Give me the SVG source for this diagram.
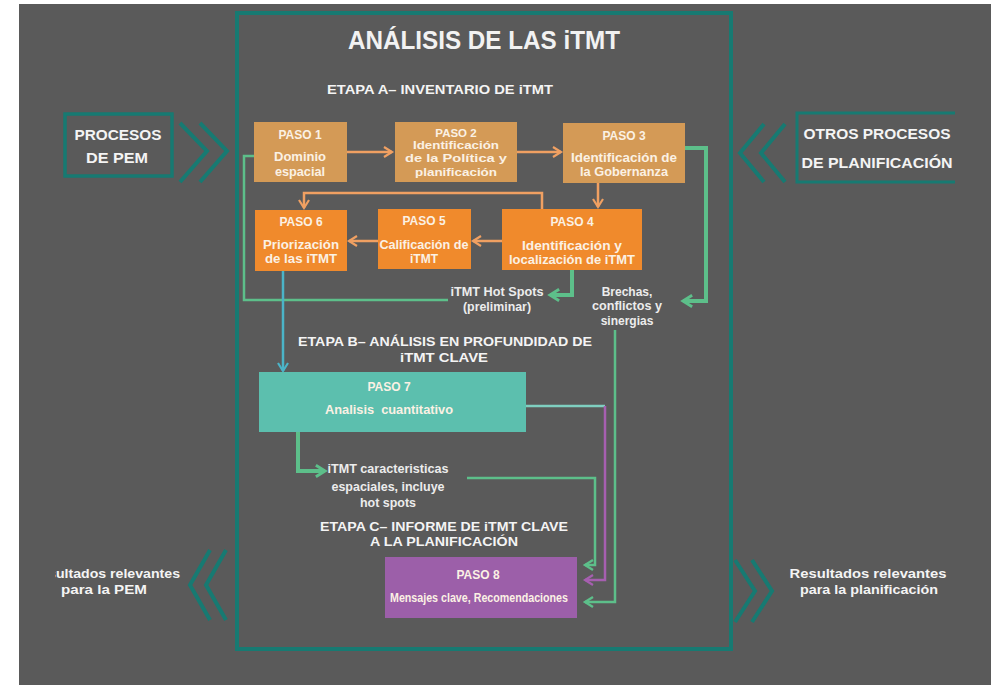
<svg xmlns="http://www.w3.org/2000/svg" width="991" height="685" viewBox="0 0 991 685">
<style>
.t{font-family:"Liberation Sans","Open Sans",sans-serif;font-weight:bold;fill:#f2f2f2;text-anchor:middle}
.bx{font-size:12px;fill:#fbf1e4}
.bs{font-size:11.5px;fill:#fbf1e4}
.lb{font-size:12px;fill:#ececec}
.hd{font-size:13px;fill:#f4f4f4}
.sd{font-size:15px;fill:#f4f4f4}
.teal{fill:none;stroke:#177a72;stroke-width:4}
.or{fill:none;stroke:#f0a062;stroke-width:2.5}
.gr{fill:none;stroke:#5dbf8a;stroke-width:2.5}
.grk{fill:none;stroke:#5dbf8a;stroke-width:4}
.cy{fill:none;stroke:#4bb4c8;stroke-width:2.5}
.pu{fill:none;stroke:#a65fb0;stroke-width:2.5}
.lt{fill:none;stroke:#7fcfc0;stroke-width:2.5}
</style>
<defs>
<marker id="ao" viewBox="-2 -2 14 14" refX="9" refY="5" markerWidth="14" markerHeight="14" markerUnits="userSpaceOnUse" orient="auto"><path d="M1,0 L9,5 L1,10" fill="none" stroke="#f0a062" stroke-width="2.2"/></marker>
<marker id="ag" viewBox="-2 -2 14 14" refX="9" refY="5" markerWidth="14" markerHeight="14" markerUnits="userSpaceOnUse" orient="auto"><path d="M1,0 L9,5 L1,10" fill="none" stroke="#5dbf8a" stroke-width="2.4"/></marker>
<marker id="agk" viewBox="-2 -2 14 14" refX="9" refY="5" markerWidth="16" markerHeight="16" markerUnits="userSpaceOnUse" orient="auto"><path d="M1,0 L9,5 L1,10" fill="none" stroke="#5dbf8a" stroke-width="2.6"/></marker>
<marker id="ac" viewBox="-2 -2 14 14" refX="9" refY="5" markerWidth="14" markerHeight="14" markerUnits="userSpaceOnUse" orient="auto"><path d="M1,0 L9,5 L1,10" fill="none" stroke="#4bb4c8" stroke-width="2.2"/></marker>
<marker id="ap" viewBox="-2 -2 14 14" refX="9" refY="5" markerWidth="14" markerHeight="14" markerUnits="userSpaceOnUse" orient="auto"><path d="M1,0 L9,5 L1,10" fill="none" stroke="#a65fb0" stroke-width="2.2"/></marker>
<clipPath id="clipL"><rect x="55" y="0" width="400" height="685"/></clipPath>
</defs>
<rect x="0" y="0" width="991" height="685" fill="#ffffff"/>
<rect x="19" y="4" width="972" height="681" fill="#5a5a5a"/>

<g id="frame">
<rect class="teal" x="237" y="13" width="494" height="636"/>
<text class="t" x="484" y="49" font-size="25" textLength="272" lengthAdjust="spacingAndGlyphs">ANÁLISIS DE LAS iTMT</text>
<text class="t hd" x="440" y="94" textLength="226" lengthAdjust="spacingAndGlyphs">ETAPA A– INVENTARIO DE iTMT</text>
<text class="t hd" x="445" y="346" textLength="294" lengthAdjust="spacingAndGlyphs">ETAPA B– ANÁLISIS EN PROFUNDIDAD DE</text>
<text class="t hd" x="444" y="362" textLength="88" lengthAdjust="spacingAndGlyphs">iTMT CLAVE</text>
<text class="t hd" x="444" y="531" textLength="248" lengthAdjust="spacingAndGlyphs">ETAPA C– INFORME DE iTMT CLAVE</text>
<text class="t hd" x="444" y="546" textLength="148" lengthAdjust="spacingAndGlyphs">A LA PLANIFICACIÓN</text>
</g>

<g id="procesos-pem">
<rect x="65" y="114" width="107" height="62" fill="none" stroke="#177a72" stroke-width="3.5"/>
<text class="t sd" x="118" y="140" textLength="87" lengthAdjust="spacingAndGlyphs">PROCESOS</text>
<text class="t sd" x="117" y="163" textLength="62" lengthAdjust="spacingAndGlyphs">DE PEM</text>
<path class="teal" stroke-width="3.5" d="M180,123 L207,151 L180,182 M200,123 L227,151 L200,182"/>
</g>

<g id="otros-procesos">
<path d="M955,113 H797 V182 H955" fill="none" stroke="#177a72" stroke-width="3"/>
<text class="t sd" x="877" y="139" textLength="147" lengthAdjust="spacingAndGlyphs">OTROS PROCESOS</text>
<text class="t sd" x="877" y="168" textLength="151" lengthAdjust="spacingAndGlyphs">DE PLANIFICACIÓN</text>
<path class="teal" stroke-width="3.5" d="M764,124 L740,153 L764,182 M785,124 L761,153 L785,182"/>
</g>

<g id="resultados-pem">
<text class="t hd" x="105" y="578" clip-path="url(#clipL)" textLength="150" lengthAdjust="spacingAndGlyphs">Resultados relevantes</text>
<text class="t hd" x="104" y="594" textLength="86" lengthAdjust="spacingAndGlyphs">para la PEM</text>
<path class="teal" stroke-width="3.5" d="M210,550 L190,585 L210,620 M226,550 L206,585 L226,620"/>
</g>

<g id="resultados-planificacion">
<text class="t hd" x="868" y="578" textLength="157" lengthAdjust="spacingAndGlyphs">Resultados relevantes</text>
<text class="t hd" x="869" y="594" textLength="138" lengthAdjust="spacingAndGlyphs">para la planificación</text>
<path class="teal" stroke-width="3.5" d="M735,560 L755,591 L735,622 M752,560 L772,591 L752,622"/>
</g>

<g id="connectors">
<path class="or" d="M347,152 H392" marker-end="url(#ao)"/>
<path class="or" d="M517,152 H561" marker-end="url(#ao)"/>
<path class="or" d="M598,183 V207" marker-end="url(#ao)"/>
<path class="or" d="M542,209 V193 H304 V208" marker-end="url(#ao)"/>
<path class="or" d="M502,241 H473" marker-end="url(#ao)"/>
<path class="or" d="M378,241 H349" marker-end="url(#ao)"/>
<path class="gr" d="M448,300 H244 V156 H254"/>
<path class="grk" d="M572,270 V295 H550" marker-end="url(#agk)"/>
<path class="grk" stroke-width="3.5" d="M685,148 H706 V301 H683" marker-end="url(#agk)"/>
<path class="gr" d="M615,330 V602 H585" marker-end="url(#ag)"/>
<path class="cy" d="M283,271 V371" marker-end="url(#ac)"/>
<path class="grk" d="M298,432 V471 H325" marker-end="url(#agk)"/>
<path class="gr" d="M467,478 H595 V565 H585" marker-end="url(#ag)"/>
<path class="lt" d="M526,406 H605"/>
<path class="pu" d="M605,406 V580 H585" marker-end="url(#ap)"/>
</g>

<g id="paso1">
<rect x="254" y="122" width="93" height="60" fill="#d49a56"/>
<text class="t bx" x="300" y="139">PASO 1</text>
<text class="t bx" x="300" y="161" textLength="52" lengthAdjust="spacingAndGlyphs">Dominio</text>
<text class="t bx" x="300" y="176" textLength="50" lengthAdjust="spacingAndGlyphs">espacial</text>
</g>
<g id="paso2">
<rect x="395" y="122" width="122" height="60" fill="#d49a56"/>
<text class="t bs" x="456" y="137">PASO 2</text>
<text class="t bs" x="456" y="149" textLength="86" lengthAdjust="spacingAndGlyphs">Identificación</text>
<text class="t bs" x="456" y="162" textLength="102" lengthAdjust="spacingAndGlyphs">de la Política y</text>
<text class="t bs" x="456" y="176" textLength="82" lengthAdjust="spacingAndGlyphs">planificación</text>
</g>
<g id="paso3">
<rect x="563" y="123" width="122" height="60" fill="#d49a56"/>
<text class="t bx" x="624" y="140">PASO 3</text>
<text class="t bx" x="624" y="162" textLength="106" lengthAdjust="spacingAndGlyphs">Identificación de</text>
<text class="t bx" x="624" y="176" textLength="88" lengthAdjust="spacingAndGlyphs">la Gobernanza</text>
</g>
<g id="paso4">
<rect x="502" y="209" width="140" height="61" fill="#f08a2c"/>
<text class="t bx" x="572" y="226">PASO 4</text>
<text class="t bx" x="572" y="250" textLength="100" lengthAdjust="spacingAndGlyphs">Identificación y</text>
<text class="t bx" x="572" y="264" textLength="126" lengthAdjust="spacingAndGlyphs">localización de iTMT</text>
</g>
<g id="paso5">
<rect x="378" y="209" width="93" height="60" fill="#f08a2c"/>
<text class="t bx" x="424" y="225">PASO 5</text>
<text class="t bx" x="424" y="249" textLength="89" lengthAdjust="spacingAndGlyphs">Calificación de</text>
<text class="t bx" x="424" y="263">iTMT</text>
</g>
<g id="paso6">
<rect x="255" y="210" width="92" height="61" fill="#f08a2c"/>
<text class="t bx" x="301" y="226">PASO 6</text>
<text class="t bx" x="301" y="249" textLength="76" lengthAdjust="spacingAndGlyphs">Priorización</text>
<text class="t bx" x="301" y="263" textLength="72" lengthAdjust="spacingAndGlyphs">de las iTMT</text>
</g>

<g id="hotspots-label">
<text class="t lb" x="497" y="296" textLength="93" lengthAdjust="spacingAndGlyphs">iTMT Hot Spots</text>
<text class="t lb" x="497" y="311" textLength="68" lengthAdjust="spacingAndGlyphs">(preliminar)</text>
</g>
<g id="brechas-label">
<text class="t lb" x="627" y="296">Brechas,</text>
<text class="t lb" x="627" y="310" textLength="70" lengthAdjust="spacingAndGlyphs">conflictos y</text>
<text class="t lb" x="627" y="325">sinergias</text>
</g>

<g id="paso7">
<rect x="259" y="372" width="267" height="60" fill="#5cbfae"/>
<text class="t bx" x="389" y="391" fill="#eef8f5">PASO 7</text>
<text class="t bx" x="389" y="414" xml:space="preserve" textLength="128" lengthAdjust="spacingAndGlyphs">Analisis  cuantitativo</text>
</g>

<g id="caracteristicas-label">
<text class="t lb" x="388" y="473" textLength="121" lengthAdjust="spacingAndGlyphs">iTMT caracteristicas</text>
<text class="t lb" x="388" y="491" textLength="113" lengthAdjust="spacingAndGlyphs">espaciales, incluye</text>
<text class="t lb" x="388" y="507" textLength="56" lengthAdjust="spacingAndGlyphs">hot spots</text>
</g>

<g id="paso8">
<rect x="385" y="557" width="192" height="61" fill="#9c5fa9"/>
<text class="t bx" x="478" y="579" font-weight="normal">PASO 8</text>
<text class="t bx" x="479" y="602" font-weight="normal" textLength="178" lengthAdjust="spacingAndGlyphs">Mensajes clave, Recomendaciones</text>
</g>
</svg>
